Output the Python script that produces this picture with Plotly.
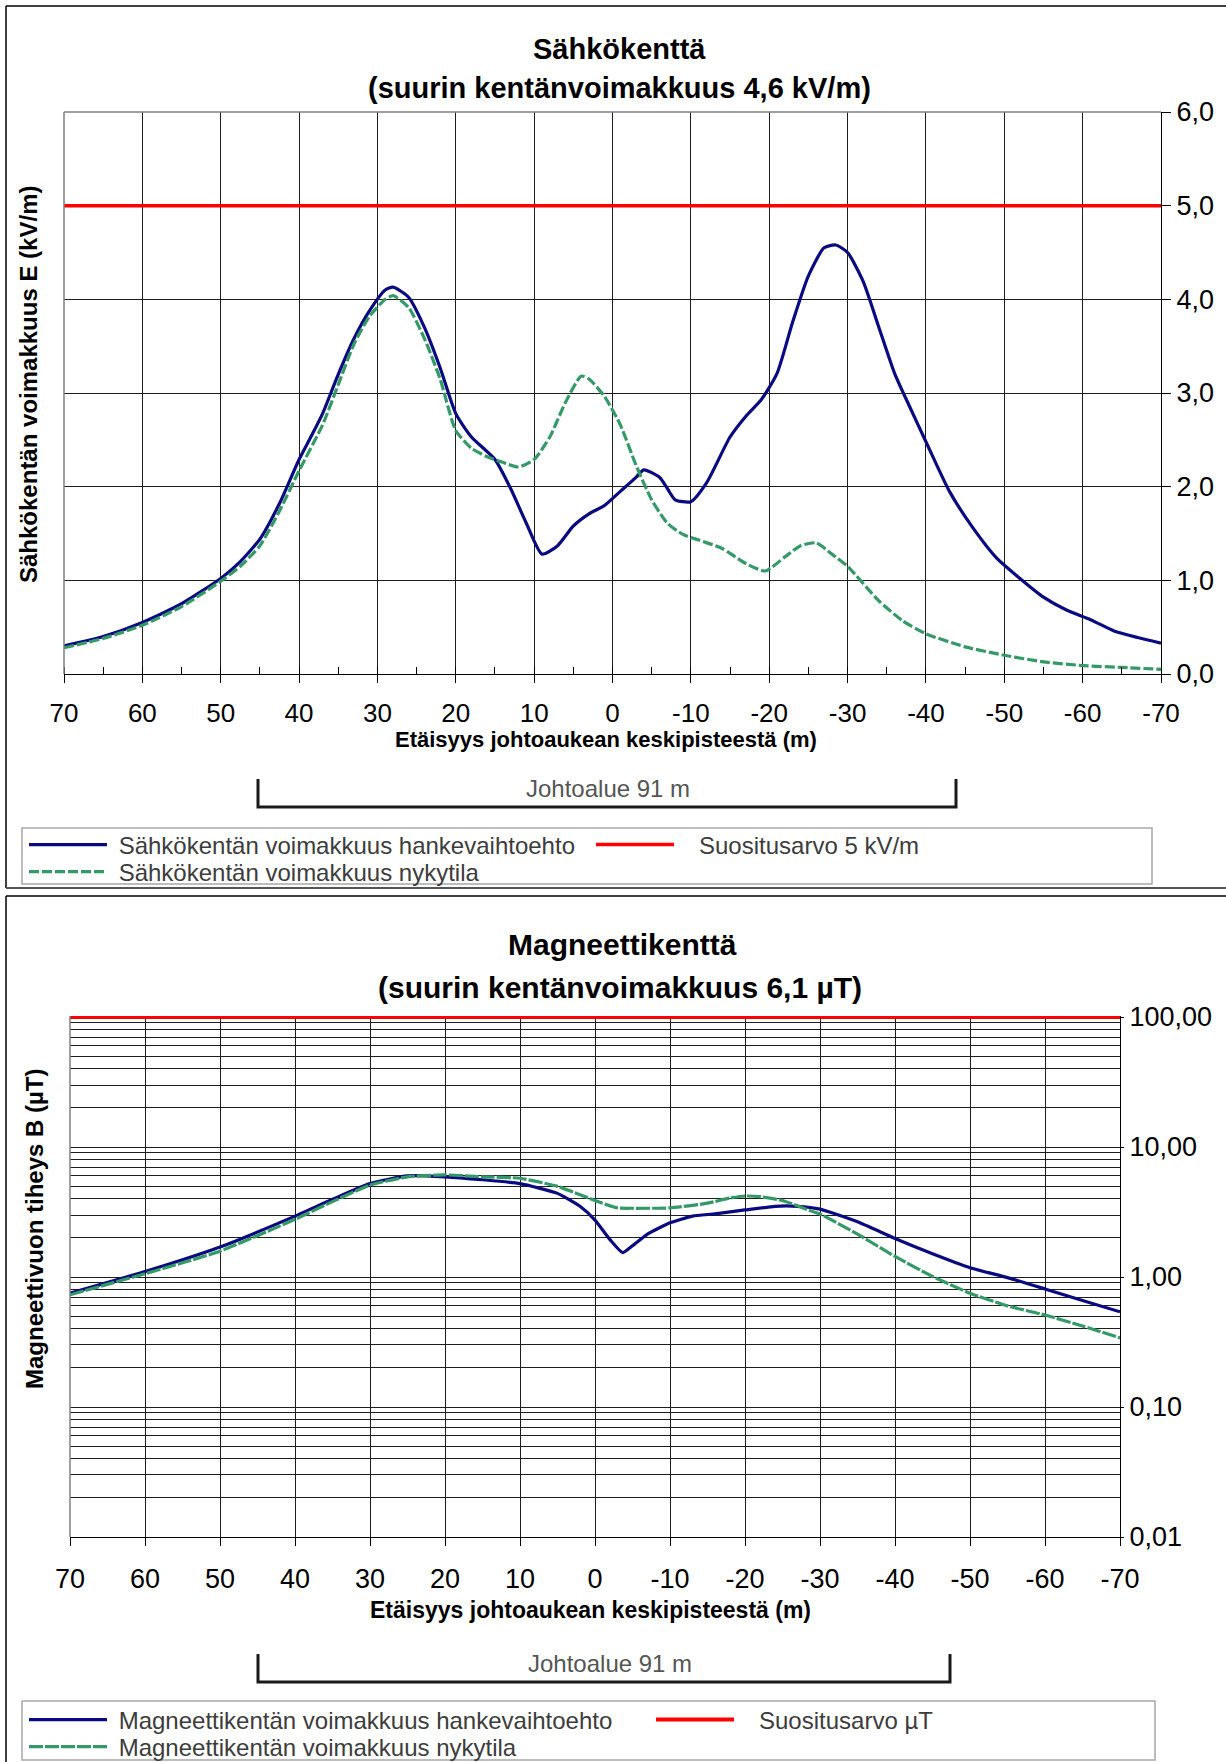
import plotly.graph_objects as go

W, H = 1226, 1762
FONT = "Liberation Sans, Arial, sans-serif"

# ---------------- data: electric field ----------------
e_x_blue = [70, 65, 60, 55, 50, 47.5, 45, 42.5, 40, 38.5, 37, 35, 33, 31, 29, 28, 26, 24, 22, 20, 18, 15, 13, 11,
            9, 7, 5, 3, 1, -1, -3, -4, -6, -7, -8, -10, -12, -15, -17, -19, -21, -23, -25, -27, -28.5, -30, -32,
            -34, -36, -38, -40, -43, -46, -49, -52, -55, -58, -61, -64, -67, -70]
e_blue = [0.30, 0.40, 0.55, 0.75, 1.02, 1.20, 1.44, 1.82, 2.29, 2.53, 2.78, 3.20, 3.58, 3.88, 4.10, 4.13, 4.02,
          3.70, 3.27, 2.78, 2.53, 2.29, 1.98, 1.61, 1.28, 1.37, 1.58, 1.71, 1.80, 1.95, 2.10, 2.18, 2.10, 1.98,
          1.86, 1.84, 2.04, 2.53, 2.75, 2.93, 3.21, 3.76, 4.25, 4.55, 4.58, 4.50, 4.19, 3.70, 3.21, 2.84, 2.48,
          1.95, 1.56, 1.24, 1.02, 0.82, 0.68, 0.58, 0.46, 0.39, 0.33]

e_x_green = [70, 65, 60, 55, 50, 47.5, 45, 42.5, 40, 37, 35, 33, 31, 29, 28, 26, 24, 22, 20, 18, 16, 14, 12, 10,
             8, 6, 4, 3, 1, -1, -3, -5, -7, -9, -11, -14, -17, -19.5, -22, -24, -26, -28, -30, -34, -37, -40, -45,
             -50, -55, -60, -65, -70]
e_green = [0.28, 0.38, 0.52, 0.72, 0.99, 1.15, 1.37, 1.74, 2.17, 2.66, 3.09, 3.52, 3.82, 4.00, 4.04, 3.91, 3.58,
           3.15, 2.60, 2.41, 2.32, 2.26, 2.21, 2.29, 2.53, 2.90, 3.18, 3.15, 2.96, 2.66, 2.23, 1.86, 1.61, 1.49,
           1.43, 1.34, 1.18, 1.10, 1.25, 1.37, 1.40, 1.28, 1.15, 0.78, 0.57, 0.43, 0.29, 0.20, 0.13, 0.09, 0.07,
           0.05]

e_limit_x = [70, -70]
e_limit = [5.0, 5.0]

# ---------------- data: magnetic field ----------------
b_x_blue = [70, 60, 50, 40, 35, 30, 25, 20, 15, 10, 5, 2, 0, -2, -3.7, -5, -7, -10, -13, -16, -20, -24, -27,
            -30, -35, -40, -45, -50, -55, -60, -65, -70]
b_blue = [0.75, 1.10, 1.70, 2.94, 3.96, 5.23, 6.0, 5.9, 5.6, 5.23, 4.4, 3.5, 2.74, 1.94, 1.54, 1.74, 2.14, 2.61,
          2.94, 3.06, 3.28, 3.5, 3.5, 3.33, 2.66, 1.98, 1.51, 1.18, 0.99, 0.81, 0.66, 0.54]

b_x_green = [70, 60, 50, 40, 35, 30, 25, 20, 15, 10, 5, 2, 0, -3, -5, -10, -15, -18, -20, -22, -25, -28, -30,
             -35, -40, -45, -50, -55, -60, -65, -70]
b_green = [0.73, 1.06, 1.58, 2.78, 3.8, 5.1, 5.9, 6.1, 5.9, 5.75, 4.98, 4.3, 3.88, 3.4, 3.38, 3.4, 3.7, 4.05,
           4.2, 4.15, 3.88, 3.35, 3.05, 2.14, 1.44, 1.01, 0.75, 0.60, 0.51, 0.42, 0.34]

b_limit_x = [70, -70]
b_limit = [100.0, 100.0]

x_ticks = [70, 60, 50, 40, 30, 20, 10, 0, -10, -20, -30, -40, -50, -60, -70]
e_ticks = [0, 1, 2, 3, 4, 5, 6]
e_ticktext = ["0,0", "1,0", "2,0", "3,0", "4,0", "5,0", "6,0"]
b_ticks = [0.01, 0.1, 1, 10, 100]
b_ticktext = ["0,01", "0,10", "1,00", "10,00", "100,00"]

NAVY = "#0a0a80"
GREEN = "#339966"
RED = "#ff0000"
GRID = "#1e1e1e"
NB = "\u00a0"


def px(x):
    return x / W


def py(y):
    return 1 - y / H


fig = go.Figure()

# top chart traces
fig.add_trace(go.Scatter(x=e_x_blue, y=e_blue, mode="lines",
                         line=dict(color=NAVY, width=3.2, shape="spline", smoothing=0.6),
                         name=NB + "Sähkökentän voimakkuus hankevaihtoehto", xaxis="x", yaxis="y", legend="legend"))
fig.add_trace(go.Scatter(x=e_limit_x, y=e_limit, mode="lines", line=dict(color=RED, width=3.5),
                         name=NB * 3 + "Suositusarvo 5 kV/m", xaxis="x", yaxis="y", legend="legend2"))
fig.add_trace(go.Scatter(x=e_x_green, y=e_green, mode="lines",
                         line=dict(color=GREEN, width=3.2, dash="10px,3px", shape="spline", smoothing=0.6),
                         name=NB + "Sähkökentän voimakkuus nykytila", xaxis="x", yaxis="y", legend="legend3"))

# bottom chart traces
fig.add_trace(go.Scatter(x=b_x_blue, y=b_blue, mode="lines",
                         line=dict(color=NAVY, width=3.2, shape="spline", smoothing=0.5),
                         name=NB + "Magneettikentän voimakkuus hankevaihtoehto", xaxis="x2", yaxis="y2", legend="legend4"))
fig.add_trace(go.Scatter(x=b_limit_x, y=b_limit, mode="lines", line=dict(color=RED, width=4),
                         name=NB * 3 + "Suositusarvo µT", xaxis="x2", yaxis="y2", legend="legend5"))
fig.add_trace(go.Scatter(x=b_x_green, y=b_green, mode="lines",
                         line=dict(color=GREEN, width=3.2, dash="14px,2px", shape="spline", smoothing=0.5),
                         name=NB + "Magneettikentän voimakkuus nykytila", xaxis="x2", yaxis="y2", legend="legend6"))

tickfont = dict(family=FONT, size=26, color="black")

xcommon = dict(range=[70, -70], tickmode="array", tickvals=x_ticks, ticktext=[str(v) for v in x_ticks],
               showgrid=True, gridcolor=GRID, gridwidth=1, showline=True, linecolor="black", linewidth=1.2,
               ticks="outside", ticklen=8, tickcolor="black", tickfont=tickfont, zeroline=False,
               automargin=False, fixedrange=True)

fig.update_layout(
    width=W, height=H, template="none",
    margin=dict(l=0, r=0, t=0, b=0, pad=0, autoexpand=False),
    paper_bgcolor="white", plot_bgcolor="white",
    font=dict(family=FONT, color="black"),
    xaxis=dict(xcommon, domain=[px(64), px(1161)], anchor="y", ticklabelstandoff=8,
               minor=dict(ticks="inside", dtick=5, tick0=0, ticklen=7, tickcolor="black", showgrid=False)),
    yaxis=dict(domain=[py(674), py(112)], anchor="x", side="right", range=[0, 6], tickmode="array",
               tickvals=e_ticks, ticktext=e_ticktext, showgrid=True, gridcolor=GRID, gridwidth=1,
               showline=True, linecolor="black", linewidth=1.2, ticks="outside", ticklen=9, tickcolor="black",
               tickfont=dict(tickfont, size=27), zeroline=False, automargin=False, fixedrange=True),
    xaxis2=dict(xcommon, domain=[px(70), px(1120)], anchor="y2", ticklabelstandoff=9,
                tickfont=dict(tickfont, size=27)),
    yaxis2=dict(domain=[py(1537), py(1016)], anchor="x2", side="right", type="log", range=[-2, 2.008],
                tickmode="array", tickvals=b_ticks, ticktext=b_ticktext, showgrid=True, gridcolor=GRID,
                gridwidth=1, showline=True, linecolor="black", linewidth=1.2, ticks="outside", ticklen=3,
                tickcolor="black", tickfont=dict(tickfont, size=27), zeroline=False, automargin=False,
                fixedrange=True,
                minor=dict(tickmode="array",
                           tickvals=[m * 10 ** k for k in (-2, -1, 0, 1) for m in range(2, 10)],
                           showgrid=True, gridcolor=GRID, gridwidth=1, ticks="")),
    showlegend=True,
)

legfont = dict(family=FONT, size=24, color="#3c3c3c")


def leg(x, y):
    return dict(x=px(x), y=py(y), xanchor="left", yanchor="middle", orientation="h", font=legfont,
                bgcolor="rgba(0,0,0,0)", borderwidth=0, itemwidth=78, itemclick=False, itemdoubleclick=False)


fig.update_layout(
    legend=leg(24, 845), legend2=leg(591, 845), legend3=leg(24, 872),
    legend4=leg(24, 1720), legend5=leg(651, 1720), legend6=leg(24, 1747),
)

shapes = []
annotations = []


def hline(x0, x1, y, color="black", width=1.5):
    shapes.append(dict(type="line", xref="paper", yref="paper", x0=px(x0), x1=px(x1), y0=py(y), y1=py(y),
                       line=dict(color=color, width=width)))


def vline(x, y0, y1, color="black", width=1.5):
    shapes.append(dict(type="line", xref="paper", yref="paper", x0=px(x), x1=px(x), y0=py(y0), y1=py(y1),
                       line=dict(color=color, width=width)))


# outer frames
hline(6, 1226, 6)
vline(6, 6, 888)
hline(6, 1226, 888, color="#555555", width=2)
hline(6, 1226, 896)
vline(6, 896, 1762)

# plot area top/left borders (grey)
hline(64, 1161, 112, color="#808080", width=1.5)
vline(64, 112, 674, color="#808080", width=1.5)
vline(70, 1016, 1537, color="#808080", width=1.5)

# legend boxes
for (x0, y0, x1, y1) in [(22, 828, 1152, 884), (22, 1701, 1155, 1760)]:
    shapes.append(dict(type="rect", xref="paper", yref="paper", x0=px(x0), x1=px(x1), y0=py(y1), y1=py(y0),
                       line=dict(color="#a8a8a8", width=1.5), fillcolor="rgba(0,0,0,0)", layer="below"))

# Johtoalue brackets
for (x0, x1, ytop, ybot, tx, ty) in [(258, 956, 779, 807, 608, 788), (258, 950, 1654, 1682, 610, 1663)]:
    shapes.append(dict(type="path", xref="paper", yref="paper",
                       path=f"M {px(x0)} {py(ytop)} L {px(x0)} {py(ybot)} L {px(x1)} {py(ybot)} L {px(x1)} {py(ytop)}",
                       line=dict(color="#1a1a1a", width=3)))
    annotations.append(dict(text="Johtoalue 91 m", x=px(tx), y=py(ty), xref="paper", yref="paper",
                            showarrow=False, font=dict(family=FONT, size=24, color="#555555"),
                            xanchor="center", yanchor="middle"))


def text(t, x, y, size, bold=True, angle=0):
    annotations.append(dict(text=f"<b>{t}</b>" if bold else t, x=px(x), y=py(y), xref="paper", yref="paper",
                            showarrow=False, font=dict(family=FONT, size=size, color="black"),
                            xanchor="center", yanchor="middle", textangle=angle))


text("Sähkökenttä", 619, 49, 29)
text("(suurin kentänvoimakkuus 4,6 kV/m)", 619, 88, 29)
text("Etäisyys johtoaukean keskipisteestä (m)", 606, 739, 22)
text("Sähkökentän voimakkuus E (kV/m)", 28, 385, 24, angle=-90)

text("Magneettikenttä", 622, 944, 30)
text("(suurin kentänvoimakkuus 6,1 µT)", 620, 987, 30)
text("Etäisyys johtoaukean keskipisteestä (m)", 590, 1610, 23)
text("Magneettivuon tiheys B (µT)", 34, 1229, 24, angle=-90)

fig.update_layout(shapes=shapes, annotations=annotations)

fig.write_html(
    "out.html",
    config={"displayModeBar": False},
    post_script=(
        "var h=document.documentElement,b=document.body;"
        "h.style.margin='0';h.style.padding='0';h.style.overflow='hidden';"
        "b.style.margin='0';b.style.padding='0';b.style.overflow='hidden';"
    ),
)
